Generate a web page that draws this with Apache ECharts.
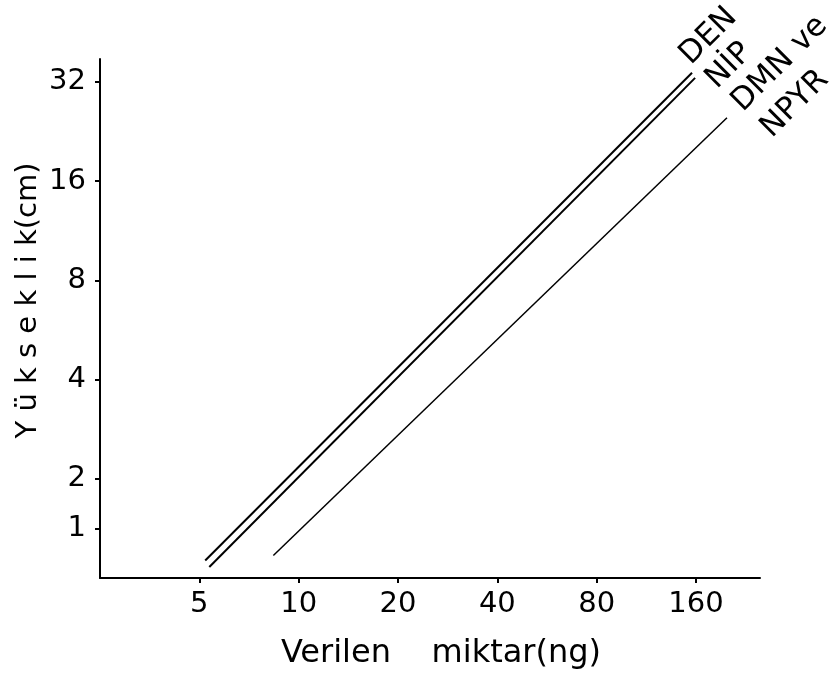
<!DOCTYPE html>
<html>
<head>
<meta charset="utf-8">
<script src="https://cdn.jsdelivr.net/npm/echarts@6/dist/echarts.min.js"></script>
<style>html,body{margin:0;padding:0;background:#fff;}#c{width:839px;height:679px;}</style>
</head>
<body>
<div id="c"></div>
<script>
// ---- data ----
const xTickValues = [5, 10, 20, 40, 80, 160];          // ng
const yTickLabels = ['1', '2', '4', '8', '16', '32'];
const yTickAt     = [0.5, 1, 2, 3, 4, 5];              // log2 axis positions of the labels
const denX = [5.21, 155.6];  const denY = [1.13, 34.1];
const nipX = [5.36, 159.0];  const nipY = [1.08, 32.9];
const dmnX = [8.38, 198.6];  const dmnY = [1.17, 24.9];
const seriesNames = ['DEN', 'NİP', 'DMN ve NPYR'];

const FONT = '"DejaVu Sans", "Liberation Sans", sans-serif';
const L2 = Math.log2;
function pts(xs, ys) { return xs.map((x, i) => [L2(x), L2(ys[i])]); }

const chart = echarts.init(document.getElementById('c'));
const axisCommon = {
  type: 'value',
  axisLine: { show: true, lineStyle: { color: '#000', width: 2 } },
  splitLine: { show: false },
  nameLocation: 'middle',
  nameMoveOverlap: false
};
chart.setOption({
  animation: false,
  backgroundColor: '#fff',
  grid: { left: 100, right: 79, top: 59, bottom: 101, containLabel: false, outerBoundsMode: 'none' },
  xAxis: Object.assign({}, axisCommon, {
    min: L2(2.5), max: 7.966,
    name: 'Verilen\u00a0\u00a0\u00a0\u00a0miktar(ng)',
    nameGap: 60,
    nameTextStyle: { color: '#000', fontFamily: FONT, fontSize: 32, padding: [0, 0, 0, 22] },
    axisTick: { show: true, length: 5, customValues: xTickValues.map(L2), lineStyle: { color: '#000', width: 2 } },
    axisLabel: { customValues: xTickValues.map(L2), formatter: v => String(Math.round(Math.pow(2, v))),
      color: '#000', fontFamily: FONT, fontSize: 29, margin: 12 }
  }),
  yAxis: Object.assign({}, axisCommon, {
    min: 0, max: 5.23,
    name: 'Y ü k s e k l i k(cm)',
    nameRotate: 90,
    nameGap: 57,
    nameTextStyle: { color: '#000', fontFamily: FONT, fontSize: 29, padding: [0, 0, 0, 36] },
    axisTick: { show: true, length: 5, customValues: yTickAt, lineStyle: { color: '#000', width: 2 } },
    axisLabel: { customValues: yTickAt, formatter: v => yTickLabels[yTickAt.indexOf(v)],
      color: '#000', fontFamily: FONT, fontSize: 29, margin: 14 }
  }),
  series: [
    { name: seriesNames[0], type: 'line', data: pts(denX, denY), symbol: 'none', lineStyle: { color: '#000', width: 2 } },
    { name: seriesNames[1], type: 'line', data: pts(nipX, nipY), symbol: 'none', lineStyle: { color: '#000', width: 2 } },
    { name: seriesNames[2], type: 'line', data: pts(dmnX, dmnY), symbol: 'none', lineStyle: { color: '#000', width: 1.5 } }
  ]
});

// rotated end labels anchored to the line ends
function endPx(xs, ys) { const n = xs.length - 1; return chart.convertToPixel({ gridIndex: 0 }, [L2(xs[n]), L2(ys[n])]); }
const pDen = endPx(denX, denY), pNip = endPx(nipX, nipY), pDmn = endPx(dmnX, dmnY);
function lab(text, p, dx, dy) {
  return { type: 'text', x: p[0] + dx, y: p[1] + dy, rotation: Math.PI / 4,
    style: { text: text, fill: '#000', font: '31px ' + FONT, align: 'left', verticalAlign: 'bottom' } };
}
chart.setOption({ graphic: [
  lab('DEN', pDen, 4, -2),
  lab('NİP', pNip, 27, 17),
  lab('DMN ve', pDmn, 21, 0),
  lab('NPYR', pDmn, 50, 26)
] });
</script>
</body>
</html>
